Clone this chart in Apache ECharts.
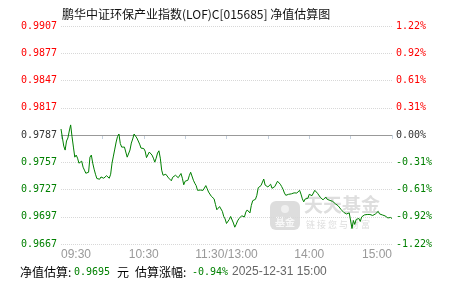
<!DOCTYPE html>
<html><head><meta charset="utf-8">
<script src="https://cdn.jsdelivr.net/npm/echarts@6/dist/echarts.min.js"></script>
<style>html,body{margin:0;padding:0;background:#fff}#c{width:451px;height:281px}</style>
</head><body><div id="c"></div>
<script>
const chartTitle = '鹏华中证环保产业指数(LOF)C[015685] 净值估算图';
const prevNav = 0.9787;
const timeLabels = ['09:30', '10:30', '11:30/13:00', '14:00', '15:00'];
const leftTickLabels = ['0.9667', '0.9697', '0.9727', '0.9757', '0.9787', '0.9817', '0.9847', '0.9877', '0.9907'];
const rightTickLabels = ['-1.22%', '-0.92%', '-0.61%', '-0.31%', '0.00%', '0.31%', '0.61%', '0.92%', '1.22%'];
const estTime = '2025-12-31 15:00';

// morning 09:30-11:30 (one value per minute)
const amValues = [
  0.97936, 0.97925, 0.97748, 0.97704, 0.97804, 0.97837, 0.97914, 0.97981, 0.97851, 0.97737,
  0.97626, 0.97649, 0.97615, 0.97560, 0.97582, 0.97582, 0.97516, 0.97483, 0.97449, 0.97427,
  0.97460, 0.97626, 0.97649, 0.97560, 0.97494, 0.97438, 0.97391, 0.97394, 0.97383, 0.97408,
  0.97411, 0.97394, 0.97405, 0.97422, 0.97405, 0.97394, 0.97438, 0.97560, 0.97638, 0.97715,
  0.97793, 0.97853, 0.97881, 0.97776, 0.97737, 0.97726, 0.97737, 0.97715, 0.97626, 0.97615,
  0.97704, 0.97781, 0.97826, 0.97881, 0.97870, 0.97837, 0.97804, 0.97770, 0.97726, 0.97732,
  0.97721, 0.97693, 0.97621, 0.97615, 0.97682, 0.97693, 0.97649, 0.97615, 0.97571, 0.97615,
  0.97671, 0.97696, 0.97615, 0.97483, 0.97427, 0.97438, 0.97438, 0.97424, 0.97397, 0.97380,
  0.97366, 0.97405, 0.97427, 0.97427, 0.97411, 0.97400, 0.97414, 0.97446, 0.97394, 0.97322,
  0.97361, 0.97366, 0.97372, 0.97422, 0.97460, 0.97440, 0.97372, 0.97339, 0.97313, 0.97261,
  0.97242, 0.97264, 0.97269, 0.97261, 0.97274, 0.97313, 0.97278, 0.97242, 0.97225, 0.97195,
  0.97173, 0.97167, 0.97106, 0.97047, 0.97056, 0.97082, 0.97067, 0.97029, 0.96973, 0.96946,
  0.96896
];
// afternoon 13:01-15:00
const pmValues = [
  0.96901, 0.96940, 0.96973, 0.96962, 0.96901, 0.96855, 0.96885, 0.96924, 0.96948, 0.96957,
  0.96981, 0.96962, 0.96968, 0.97021, 0.97045, 0.97029, 0.97012, 0.97095, 0.97147, 0.97150,
  0.97162, 0.97206, 0.97289, 0.97300, 0.97313, 0.97316, 0.97385, 0.97319, 0.97305, 0.97298,
  0.97283, 0.97328, 0.97283, 0.97267, 0.97302, 0.97302, 0.97361, 0.97366, 0.97328, 0.97302,
  0.97272, 0.97231, 0.97206, 0.97206, 0.97217, 0.97217, 0.97222, 0.97230, 0.97233, 0.97250,
  0.97231, 0.97222, 0.97261, 0.97219, 0.97167, 0.97134, 0.97165, 0.97175, 0.97173, 0.97217,
  0.97202, 0.97202, 0.97202, 0.97261, 0.97261, 0.97228, 0.97206, 0.97184, 0.97170, 0.97156,
  0.97162, 0.97187, 0.97162, 0.97154, 0.97150, 0.97137, 0.97139, 0.97121, 0.97112, 0.97106,
  0.97090, 0.97073, 0.97051, 0.97029, 0.97018, 0.97012, 0.97001, 0.97012, 0.97012, 0.96995,
  0.96840, 0.96929, 0.96885, 0.96940, 0.96929, 0.96951, 0.96918, 0.96968, 0.96973, 0.96990,
  0.96979, 0.96995, 0.96990, 0.96995, 0.97001, 0.96984, 0.96990, 0.97001, 0.97018, 0.97029,
  0.97001, 0.96979, 0.96990, 0.97001, 0.96979, 0.96973, 0.96957, 0.96951, 0.96962, 0.96950
];

const navValues = amValues.concat(pmValues);
// y in units of 0.0001 relative to previous NAV
const seriesData = navValues.map((v, i) => [i, Math.round((v - prevNav) * 1e6) / 100]);
const lastNav = navValues[navValues.length - 1];
const lastPct = ((lastNav / prevNav - 1) * 100).toFixed(2) + '%';

const RED = '#ff0000', GREEN = '#008000', MID = '#333333';
const MONO = '"DejaVu Sans Mono", "Liberation Mono", monospace';
const CJK = '"Noto Sans CJK SC", sans-serif';
const idxOf = v => Math.round((v + 120) / 30);
const colorOf = v => { const k = idxOf(v); return k > 4 ? RED : (k === 4 ? MID : GREEN); };

const chart = echarts.init(document.getElementById('c'), null, { renderer: 'canvas' });
chart.setOption({
  animation: false,
  backgroundColor: '#fff',
  title: {
    text: chartTitle, left: 57, top: 3,
    textStyle: { fontSize: 12, fontWeight: 'normal', color: '#111', fontFamily: CJK }
  },
  grid: { left: 61, right: 59, top: 26, bottom: 37, containLabel: false },
  xAxis: {
    type: 'value', min: 0, max: 240, interval: 30,
    axisLine: { show: true, lineStyle: { color: '#c4d0dd', width: 1 } },
    axisTick: { show: true, length: 4, lineStyle: { color: '#c4d0dd' } },
    splitLine: { show: false },
    axisLabel: {
      margin: 5, color: '#999', fontSize: 12, fontFamily: '"Liberation Sans", Arial, sans-serif',
      alignMinLabel: 'left', alignMaxLabel: 'right',
      formatter: v => (v % 60 === 0 ? timeLabels[v / 60] : '')
    }
  },
  yAxis: [
    {
      type: 'value', min: -120, max: 120, interval: 30, position: 'left',
      axisLine: { show: false }, axisTick: { show: false },
      splitLine: { show: true, lineStyle: { type: 'dotted', color: '#d8d8d8', width: 1 } },
      axisLabel: {
        margin: 4, fontSize: 10, fontFamily: MONO,
        formatter: v => leftTickLabels[idxOf(v)],
        color: v => colorOf(v)
      }
    },
    {
      type: 'value', min: -120, max: 120, interval: 30, position: 'right',
      axisLine: { show: false }, axisTick: { show: false }, splitLine: { show: false },
      axisLabel: {
        margin: 4, fontSize: 10, fontFamily: MONO,
        formatter: v => rightTickLabels[idxOf(v)],
        color: v => colorOf(v)
      }
    }
  ],
  graphic: [
    { type: 'rect', z: 0, shape: { x: 270, y: 201, width: 30, height: 29, r: 6 }, style: { fill: '#dddddd' } },
    { type: 'circle', z: 0, shape: { cx: 285, cy: 209, r: 4 }, style: { fill: '#f0f0f0' } },
    { type: 'text', z: 0, x: 285, y: 222, style: { text: '基金', fill: '#f8f8f8', font: 'bold 10px ' + CJK, textAlign: 'center', textVerticalAlign: 'middle' } },
    { type: 'text', z: 0, x: 304, y: 205, style: { text: '天天基金', fill: '#dedede', font: 'bold 19px ' + CJK, textVerticalAlign: 'middle' } },
    { type: 'text', z: 0, x: 306, y: 225, style: { text: '链 接 您 与 财 富', fill: '#dddddd', font: '9px ' + CJK, textVerticalAlign: 'middle' } },

    { type: 'text', x: 20, y: 272, style: { text: '净值估算:', fill: '#000', font: '12px ' + CJK, textVerticalAlign: 'middle' } },
    { type: 'text', x: 74, y: 272, style: { text: lastNav.toFixed(4), fill: GREEN, font: '10px ' + MONO, textVerticalAlign: 'middle' } },
    { type: 'text', x: 117, y: 272, style: { text: '元', fill: '#000', font: '12px ' + CJK, textVerticalAlign: 'middle' } },
    { type: 'text', x: 135, y: 272, style: { text: '估算涨幅:', fill: '#000', font: '12px ' + CJK, textVerticalAlign: 'middle' } },
    { type: 'text', x: 192, y: 272, style: { text: lastPct, fill: GREEN, font: '10px ' + MONO, textVerticalAlign: 'middle' } },
    { type: 'text', x: 232, y: 272, style: { text: estTime, fill: '#666', font: '12px "Liberation Sans", Arial, sans-serif', textVerticalAlign: 'middle' } }
  ],
  series: [{
    type: 'line', z: 5, yAxisIndex: 0, data: seriesData,
    showSymbol: false, symbol: 'none', smooth: false,
    lineStyle: { color: GREEN, width: 1 },
    markLine: {
      silent: true, symbol: 'none', label: { show: false },
      lineStyle: { color: '#999', type: 'solid', width: 1 },
      data: [{ yAxis: 0 }]
    }
  }]
});
</script>
</body></html>
